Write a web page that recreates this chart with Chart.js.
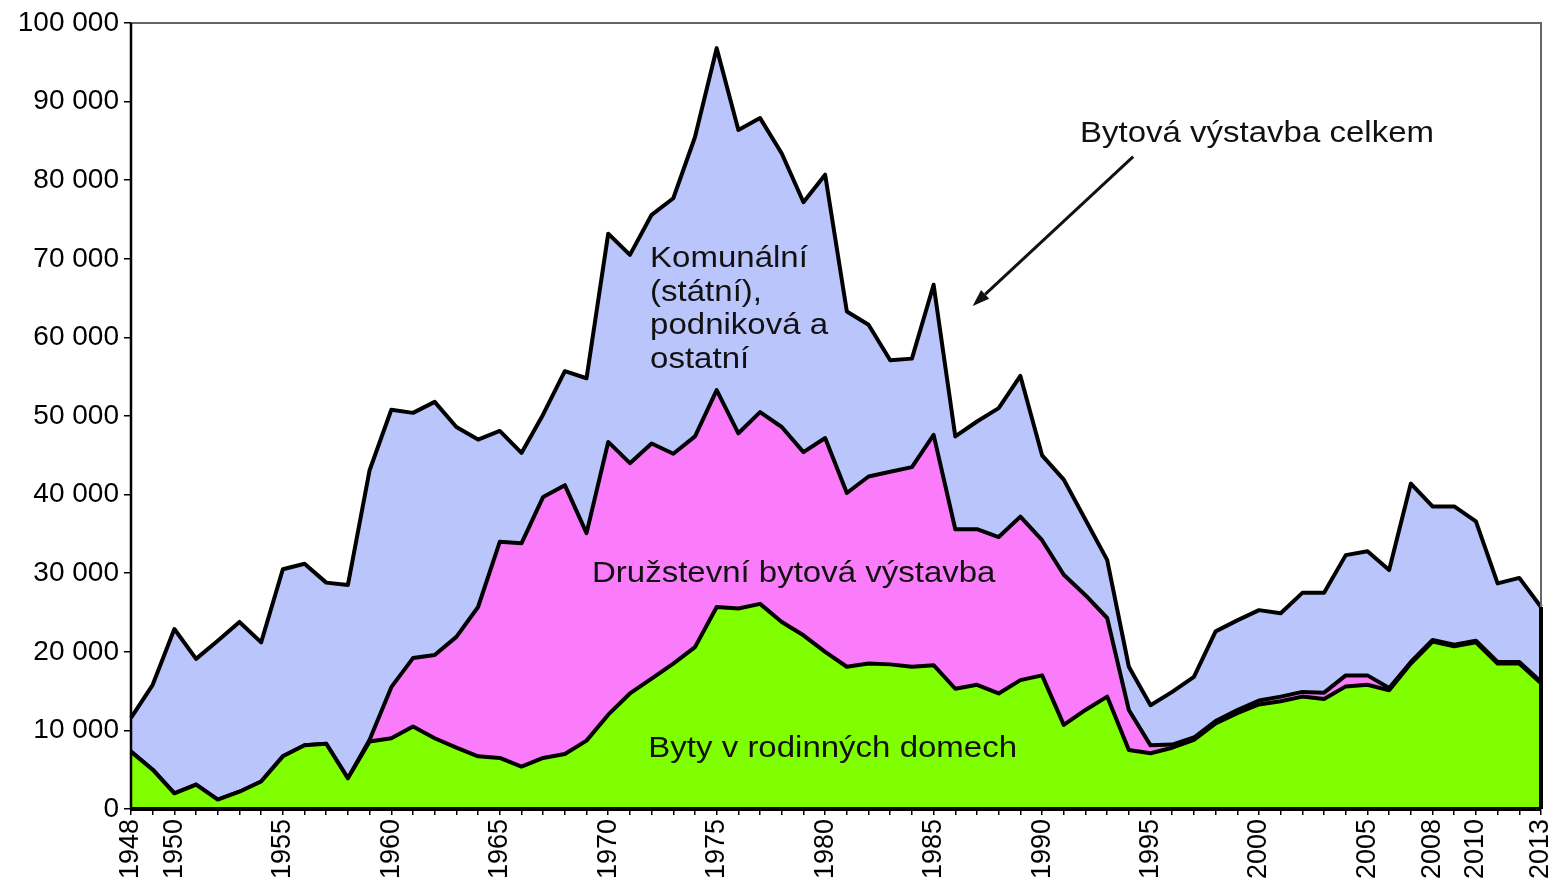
<!DOCTYPE html>
<html>
<head>
<meta charset="utf-8">
<script src="https://cdn.jsdelivr.net/npm/chart.js@4.4.1/dist/chart.umd.min.js"></script>
<style>
html, body { margin: 0; padding: 0; background: #fff; }
</style>
</head>
<body>
<canvas id="myChart" width="1557" height="890"></canvas>
<script>
// years 1948 .. 2013
const years = Array.from({ length: 66 }, (_, i) => 1948 + i);
const shownYears = [1948, 1950, 1955, 1960, 1965, 1970, 1975, 1980, 1985, 1990, 1995, 2000, 2005, 2008, 2010, 2013];

// byty v rodinnych domech
const rodinneDomy = [
    7300, 5000, 2000, 3100, 1200, 2200, 3500, 6700, 8100, 8300,
    3900, 8600, 9000, 10500, 9000, 7800, 6700, 6500, 5400, 6500,
    7000, 8700, 12000, 14700, 16600, 18500, 20600, 25700, 25500, 26100,
    23800, 22100, 20000, 18100, 18500, 18400, 18100, 18300, 15300, 15800,
    14700, 16400, 17000, 10700, 12600, 14300, 7500, 7100, 7800, 8800,
    10900, 12200, 13300, 13700, 14300, 14000, 15600, 15800, 15100, 18500,
    21300, 20700, 21200, 18500, 18500, 16000
];
// druzstevni bytova vystavba
const druzstevni = [
    0, 0, 0, 0, 0, 0, 0, 0, 0, 0,
    0, 200, 6500, 8700, 10600, 14100, 19000, 27500, 28400, 33200,
    34200, 26400, 34700, 29300, 29900, 26700, 26800, 27600, 22300, 24400,
    24800, 23300, 27200, 22100, 23800, 24500, 25400, 29300, 20300, 19800,
    19900, 20800, 17200, 19100, 14600, 10000, 5100, 1000, 400, 300,
    300, 400, 500, 600, 600, 800, 1400, 1200, 300, 200,
    200, 200, 200, 200, 200, 200
];
// komunalni (statni), podnikova a ostatni
const komunalni = [
    4300, 10800, 20900, 16000, 20200, 21600, 17700, 23800, 23100, 20500,
    24600, 34300, 35300, 31200, 32200, 26700, 21300, 14100, 11500, 10500,
    14500, 19700, 26500, 26500, 29100, 32500, 38100, 43500, 38600, 37400,
    34800, 31800, 33500, 23100, 19300, 14200, 13800, 19100, 11800, 13700,
    16400, 17900, 10800, 12100, 9600, 7400, 5500, 5100, 6700, 7700,
    11400, 11400, 11500, 10600, 12600, 12700, 15300, 15800, 15000, 22700,
    17000, 17600, 15200, 10000, 10700, 9500
];

const fmt = v => String(v).replace(/\B(?=(\d{3})+(?!\d))/g, ' ');

// text labels placed in data coords (category index, value)
const notes = [
    { text: 'Komunální', at: [23.93, 68900] },
    { text: '(státní),', at: [23.93, 64650] },
    { text: 'podniková a', at: [23.93, 60400] },
    { text: 'ostatní', at: [23.93, 56150] },
    { text: 'Družstevní bytová výstavba', at: [21.25, 28900] },
    { text: 'Byty v rodinných domech', at: [23.85, 6650] },
    { text: 'Bytová výstavba celkem', at: [43.75, 84900] }
];
const arrow = { from: [46.2, 83000], to: [38.8, 64000] };

const notesPlugin = {
    id: 'notes',
    afterDatasetsDraw(chart) {
        const c = chart.ctx, a = chart.chartArea;
        const xs = chart.scales.x, ys = chart.scales.y;
        const last = years.length - 1;
        const total = rodinneDomy[last] + druzstevni[last] + komunalni[last];

        c.save();
        // frame: grey top / right
        c.strokeStyle = '#666';
        c.lineWidth = 2;
        c.beginPath();
        c.moveTo(a.left, a.top);
        c.lineTo(a.right, a.top);
        c.lineTo(a.right, a.bottom);
        c.stroke();
        // black edge of the area at the last year
        c.strokeStyle = '#000';
        c.lineWidth = 4;
        c.beginPath();
        c.moveTo(xs.getPixelForValue(last), ys.getPixelForValue(0));
        c.lineTo(xs.getPixelForValue(last), ys.getPixelForValue(total));
        c.stroke();
        // axis lines
        c.beginPath();
        c.moveTo(a.left, a.bottom);
        c.lineTo(a.right, a.bottom);
        c.stroke();
        c.lineWidth = 2.5;
        c.beginPath();
        c.moveTo(a.left, a.top);
        c.lineTo(a.left, a.bottom);
        c.stroke();

        // texts
        c.fillStyle = '#111';
        c.font = '30px "Liberation Sans", Arial, sans-serif';
        c.textBaseline = 'alphabetic';
        c.textAlign = 'left';
        notes.forEach(n => {
            c.save();
            c.translate(xs.getPixelForValue(n.at[0]), ys.getPixelForValue(n.at[1]));
            c.scale(1.1, 1);
            c.fillText(n.text, 0, 0);
            c.restore();
        });

        // arrow
        const x1 = xs.getPixelForValue(arrow.from[0]), y1 = ys.getPixelForValue(arrow.from[1]);
        const x2 = xs.getPixelForValue(arrow.to[0]), y2 = ys.getPixelForValue(arrow.to[1]);
        const ang = Math.atan2(y2 - y1, x2 - x1);
        const len = 17, half = 6;
        const bx = x2 - len * Math.cos(ang), by = y2 - len * Math.sin(ang);
        c.strokeStyle = '#111';
        c.lineWidth = 3;
        c.beginPath();
        c.moveTo(x1, y1);
        c.lineTo(bx, by);
        c.stroke();
        c.fillStyle = '#111';
        c.beginPath();
        c.moveTo(x2, y2);
        c.lineTo(bx + half * Math.sin(ang), by - half * Math.cos(ang));
        c.lineTo(bx - half * Math.sin(ang), by + half * Math.cos(ang));
        c.closePath();
        c.fill();
        c.restore();
    }
};

const areaStyle = { borderColor: '#000', borderWidth: 4, pointRadius: 0, tension: 0, borderJoinStyle: 'round' };

const ctx = document.getElementById('myChart').getContext('2d');
const myChart = new Chart(ctx, {
    type: 'line',
    data: {
        labels: years,
        datasets: [
            Object.assign({ label: 'Byty v rodinných domech', data: rodinneDomy, backgroundColor: '#80FF00', fill: 'origin' }, areaStyle),
            Object.assign({ label: 'Družstevní bytová výstavba', data: druzstevni, backgroundColor: '#FA7CFA', fill: '-1' }, areaStyle),
            Object.assign({ label: 'Komunální (státní), podniková a ostatní', data: komunalni, backgroundColor: '#BAC5FC', fill: '-1' }, areaStyle)
        ]
    },
    options: {
        responsive: false,
        animation: false,
        layout: { padding: { top: 23, right: 16, left: 0, bottom: 0 } },
        plugins: {
            legend: { display: false },
            tooltip: { enabled: false }
        },
        scales: {
            x: {
                offset: false,
                grid: { drawOnChartArea: false, drawTicks: true, tickLength: 6, color: '#000', lineWidth: 1.5 },
                border: { display: true, color: '#000', width: 3 },
                ticks: {
                    autoSkip: false,
                    minRotation: 90,
                    maxRotation: 90,
                    padding: 4,
                    color: '#000',
                    font: { family: '"Liberation Sans", Arial, sans-serif', size: 27 },
                    callback: (v, i) => shownYears.includes(years[i]) ? String(years[i]) : ''
                },
                afterFit: s => { s.height = 81; s.paddingLeft = 0; s.paddingRight = 0; }
            },
            y: {
                stacked: true,
                min: 0,
                max: 100000,
                grid: { drawOnChartArea: false, drawTicks: true, tickLength: 7, color: '#000', lineWidth: 1.5 },
                border: { display: true, color: '#000', width: 2 },
                ticks: {
                    stepSize: 10000,
                    padding: 5,
                    color: '#000',
                    font: { family: '"Liberation Sans", Arial, sans-serif', size: 28 },
                    callback: v => fmt(v)
                },
                afterFit: s => { s.width = 131; s.paddingTop = 0; s.paddingBottom = 0; }
            }
        }
    },
    plugins: [notesPlugin]
});
</script>
</body>
</html>
